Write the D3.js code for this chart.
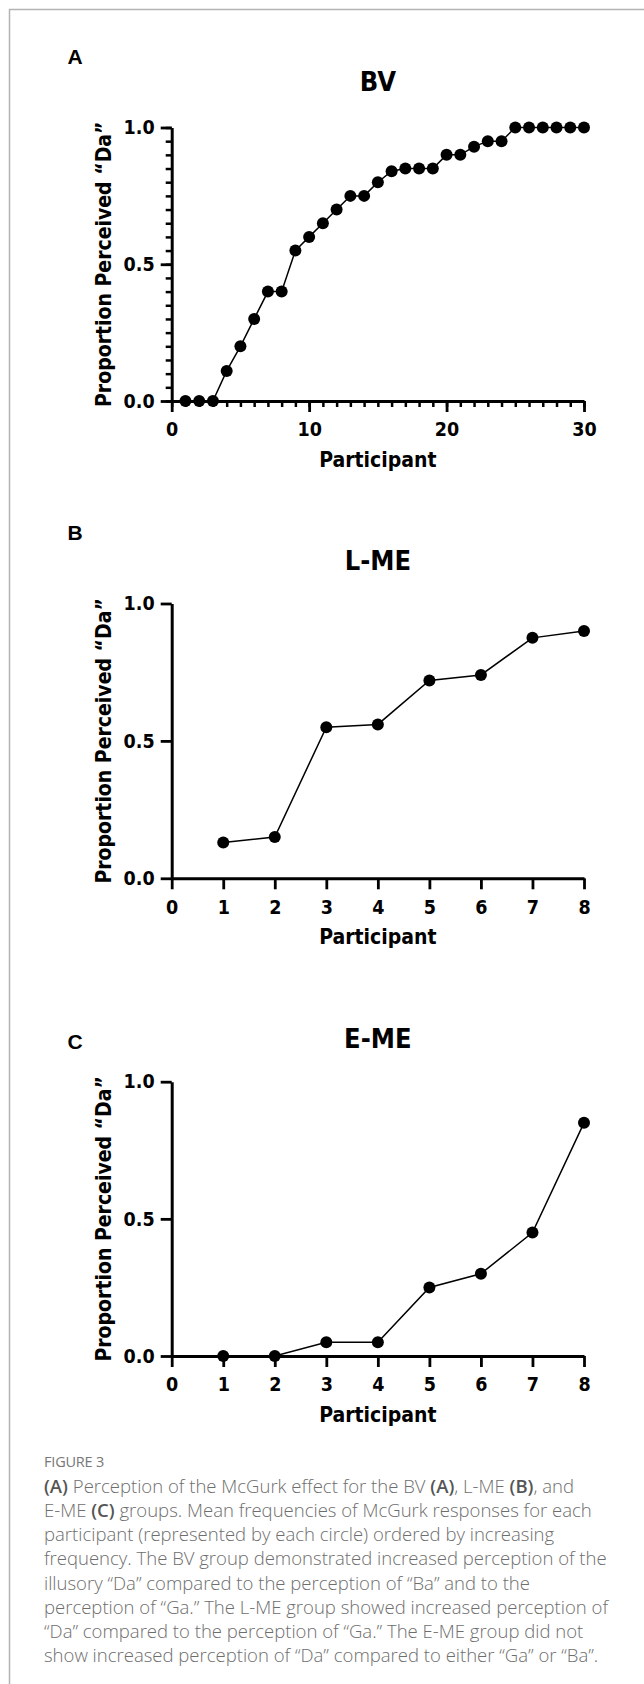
<!DOCTYPE html>
<html>
<head>
<meta charset="utf-8">
<script src="https://cdn.jsdelivr.net/npm/d3@7"></script>
<style>
  html, body { margin: 0; padding: 0; background: #fff; }
  svg { display: block; }
  .chart text { font-family: "DejaVu Sans", sans-serif; font-stretch: condensed; font-weight: bold; fill: #000; }
  .cap { font-family: "Open Sans", sans-serif; font-weight: 300; fill: #6e6e6e; }
  .cap .b { font-weight: 600; fill: #555; }
</style>
</head>
<body>
<svg id="fig" width="644" height="1684"></svg>
<script>
// ---------- data ----------
const bvParticipant = [1,2,3,4,5,6,7,8,9,10,11,12,13,14,15,16,17,18,19,20,21,22,23,24,25,26,27,28,29,30];
const bvProportion  = [0,0,0,0.11,0.20,0.30,0.40,0.40,0.55,0.60,0.65,0.70,0.75,0.75,0.80,0.84,0.85,0.85,0.85,0.90,0.90,0.93,0.95,0.95,1,1,1,1,1,1];

const lmeParticipant = [1,2,3,4,5,6,7,8];
const lmeProportion  = [0.13,0.15,0.55,0.56,0.72,0.74,0.875,0.90];

const emeParticipant = [1,2,3,4,5,6,7,8];
const emeProportion  = [0,0,0.05,0.05,0.25,0.30,0.45,0.85];

const yTickValues   = [0, 0.5, 1.0];
const bvXTickValues = [0, 10, 20, 30];
const meXTickValues = [0,1,2,3,4,5,6,7,8];

const panelLetters = ["A", "B", "C"];
const panelTitles  = ["BV", "L-ME", "E-ME"];
const xAxisTitle = "Participant";
const yAxisTitle = "Proportion Perceived \u201cDa\u201d";

const captionHead = "FIGURE 3";
const captionLines = [
  [["(A)", true], [" Perception of the McGurk effect for the BV ", false], ["(A)", true], [", L-ME ", false], ["(B)", true], [", and", false]],
  [["E-ME ", false], ["(C)", true], [" groups. Mean frequencies of McGurk responses for each", false]],
  [["participant (represented by each circle) ordered by increasing", false]],
  [["frequency. The BV group demonstrated increased perception of the", false]],
  [["illusory \u201cDa\u201d compared to the perception of \u201cBa\u201d and to the", false]],
  [["perception of \u201cGa.\u201d The L-ME group showed increased perception of", false]],
  [["\u201cDa\u201d compared to the perception of \u201cGa.\u201d The E-ME group did not", false]],
  [["show increased perception of \u201cDa\u201d compared to either \u201cGa\u201d or \u201cBa\u201d.", false]]
];

// ---------- layout ----------
const svg = d3.select("#fig");
svg.append("rect").attr("width", 644).attr("height", 1684).attr("fill", "#fff");
// frame
svg.append("path").attr("d", "M9.5,1684 L9.5,9.5 L644,9.5")
  .attr("fill", "none").attr("stroke", "#b3b3b3").attr("stroke-width", 1.5);

const xLeft = 171.7, xRight = 584;
const panels = [
  { letter: panelLetters[0], title: panelTitles[0], xs: bvParticipant, ys: bvProportion, xMax: 30,
    xTicks: bvXTickValues, minor: true, yTop: 127.5, yBot: 401, letterY: 64, titleY: 90.5 },
  { letter: panelLetters[1], title: panelTitles[1], xs: lmeParticipant, ys: lmeProportion, xMax: 8,
    xTicks: meXTickValues, minor: false, yTop: 603.5, yBot: 878.3, letterY: 540, titleY: 569.8 },
  { letter: panelLetters[2], title: panelTitles[2], xs: emeParticipant, ys: emeProportion, xMax: 8,
    xTicks: meXTickValues, minor: false, yTop: 1081.7, yBot: 1356, letterY: 1049.3, titleY: 1047.8 }
];

const chart = svg.append("g").attr("class", "chart");

panels.forEach(p => {
  const g = chart.append("g");
  const x = d3.scaleLinear().domain([0, p.xMax]).range([xLeft, xRight]);
  const y = d3.scaleLinear().domain([0, 1]).range([p.yBot, p.yTop]);

  // panel letter
  g.append("text").attr("x", 67.5).attr("y", p.letterY)
    .style("font-family", "'Liberation Sans', Arial, sans-serif").style("font-stretch", "normal")
    .style("font-size", "21px").text(p.letter);
  // title
  g.append("text").attr("x", (xLeft + xRight) / 2).attr("y", p.titleY)
    .attr("text-anchor", "middle").style("font-size", "27px").text(p.title);

  // minor ticks (BV only)
  if (p.minor) {
    g.append("g").attr("transform", `translate(0,${p.yBot})`)
      .call(d3.axisBottom(x).tickValues(d3.range(0, p.xMax + 1, 1)).tickSize(6).tickSizeOuter(0).tickFormat(""))
      .call(a => a.select(".domain").remove())
      .call(a => a.selectAll("line").attr("stroke", "#000").attr("stroke-width", 2.5));
    g.append("g").attr("transform", `translate(${xLeft},0)`)
      .call(d3.axisLeft(y).tickValues(d3.range(0, 1.0001, 0.05)).tickSize(6).tickSizeOuter(0).tickFormat(""))
      .call(a => a.select(".domain").remove())
      .call(a => a.selectAll("line").attr("stroke", "#000").attr("stroke-width", 2.5));
  }

  // x axis
  const xa = g.append("g").attr("transform", `translate(0,${p.yBot})`)
    .call(d3.axisBottom(x).tickValues(p.xTicks).tickSize(11).tickSizeOuter(0).tickPadding(10.5).tickFormat(d3.format("d")));
  // y axis
  const ya = g.append("g").attr("transform", `translate(${xLeft},0)`)
    .call(d3.axisLeft(y).tickValues(yTickValues).tickSize(11).tickSizeOuter(0).tickPadding(6).tickFormat(d3.format(".1f")));

  [xa, ya].forEach(a => {
    a.select(".domain").attr("stroke", "#000").attr("stroke-width", 3);
    a.selectAll(".tick line").attr("stroke", "#000").attr("stroke-width", 2.8);
    a.selectAll(".tick text").style("font-size", "19.5px").attr("fill", "#000");
  });

  // axis titles
  g.append("text").attr("x", (xLeft + xRight) / 2).attr("y", p.yBot + 66)
    .attr("text-anchor", "middle").style("font-size", "21px").text(xAxisTitle);
  g.append("text").attr("transform", `translate(111,${(p.yTop + p.yBot) / 2}) rotate(-90)`)
    .attr("text-anchor", "middle").style("font-size", "21px").text(yAxisTitle);

  // data
  const pts = p.xs.map((v, i) => [v, p.ys[i]]);
  g.append("path").datum(pts)
    .attr("d", d3.line().x(d => x(d[0])).y(d => y(d[1])))
    .attr("fill", "none").attr("stroke", "#000").attr("stroke-width", 1.5);
  g.selectAll("circle.pt").data(pts).join("circle").attr("class", "pt")
    .attr("cx", d => x(d[0])).attr("cy", d => y(d[1])).attr("r", 6).attr("fill", "#000");
});

// ---------- caption ----------
const cap = svg.append("g").attr("class", "cap");
cap.append("text").attr("x", 44).attr("y", 1467.3)
  .style("font-size", "14.5px").style("font-weight", 500).attr("fill", "#777")
  .style("letter-spacing", "-0.2px").text(captionHead);

const lineEls = captionLines.map((segs, i) => {
  const t = cap.append("text").attr("x", 44).attr("y", 1492.7 + 24.2 * i);
  segs.forEach(([s, b]) => t.append("tspan").attr("class", b ? "b" : null).text(s));
  return t;
});
// fit font size so that the longest line spans ~563px
let fs = 17;
lineEls.forEach(t => t.style("font-size", fs + "px"));
const w = lineEls[3].node().getComputedTextLength();
fs = fs * 563 / w;
lineEls.forEach(t => t.style("font-size", fs.toFixed(2) + "px"));
</script>
</body>
</html>
